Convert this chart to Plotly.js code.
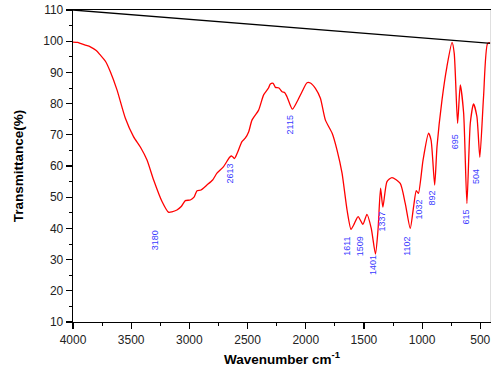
<!DOCTYPE html>
<html>
<head>
<meta charset="utf-8">
<script src="https://cdn.plot.ly/plotly-3.0.1.min.js"></script>
<style>html,body{margin:0;padding:0;background:#fff;}#chart{width:491px;height:376px;}</style>
</head>
<body>
<div id="chart"></div>
<script>
const wavenumber = [4000,3960,3937,3900,3851,3800,3766,3720,3679,3622,3550,3480,3420,3364,3307,3235,3180,3150,3107,3070,3035,2992,2960,2934,2900,2849,2800,2763,2706,2654,2635,2613,2590,2548,2520,2490,2462,2405,2362,2320,2304,2280,2261,2230,2203,2180,2161,2115,2075,2032,1989,1960,1917,1874,1831,1773,1731,1688,1645,1611,1588,1550,1509,1474,1437,1401,1379,1357,1337,1302,1259,1188,1145,1102,1073,1050,1032,992,945,923,892,872,829,787,743,724,695,672,643,615,586,558,529,504,472,437,408];
const transmittance = [99.7,99.6,99.3,98.8,98.2,97.0,95.6,93.5,90.2,84.4,75.3,69.4,66.0,61.9,55.5,48.6,45.2,45.3,45.9,47.0,48.9,49.1,50.0,52.1,52.3,53.9,55.5,57.7,59.8,62.8,63.2,62.4,64.0,67.8,68.9,71.0,74.7,77.9,82.8,85.0,86.3,86.5,85.2,85.0,83.8,83.5,82.2,78.2,80.6,83.8,86.7,86.6,84.9,81.7,74.7,70.5,65.1,57.7,45.9,39.7,41.1,43.8,41.3,44.5,40.0,31.8,39.5,52.9,46.8,55.0,56.3,54.4,48.0,40.0,47.0,52.1,51.2,61.9,70.5,68.3,53.9,66.2,81.2,91.8,99.6,96.1,73.7,86.0,76.9,48.0,73.7,79.9,75.8,62.8,82.2,99.3,99.5];
const baselineX = [4000,408];
const baselineY = [110,99.3];
const peakLabels = ['3180','2613','2115','1611','1509','1401','1337','1102','1032','892','695','615','504'];
const peakLabelX = [3293,2648,2133,1646,1531,1422,1345,1130,1030,915,721,620,543];
const peakLabelY = [36.3,57.7,73.1,34.4,34.4,28.3,42.2,34.4,45.9,49.6,67.8,43.6,56.6];
const xTickVals = [4000,3500,3000,2500,2000,1500,1000,500];
const yTickVals = [10,20,30,40,50,60,70,80,90,100,110];

const traces = [
  {x: wavenumber, y: transmittance, type:'scatter', mode:'lines',
   line:{color:'#ff0000', width:1.3, shape:'spline', smoothing:0.6}, hoverinfo:'skip'},
  {x: baselineX, y: baselineY, type:'scatter', mode:'lines',
   line:{color:'#000000', width:1.3}, hoverinfo:'skip'}
];

const annotations = peakLabels.map((t,i)=>({
  x: peakLabelX[i], y: peakLabelY[i], xref:'x', yref:'y', text:t, showarrow:false,
  textangle:-90, xanchor:'center', yanchor:'middle',
  font:{family:'Liberation Sans, Arial, sans-serif', size:9, color:'#3a3aff'}
}));

const layout = {
  width:491, height:376,
  margin:{l:73, r:0, t:10, b:54},
  paper_bgcolor:'#ffffff', plot_bgcolor:'#ffffff',
  showlegend:false,
  font:{family:'Liberation Sans, Arial, sans-serif', size:12, color:'#222'},
  xaxis:{
    range:[4000,408], showgrid:false, zeroline:false,
    showline:true, linecolor:'#000', linewidth:1.3, mirror:true,
    ticks:'outside', ticklen:6, tickwidth:1.2, tickcolor:'#000',
    tickvals:xTickVals, ticktext:xTickVals.map(String),
    minor:{dtick:250, ticks:'outside', ticklen:3, tickcolor:'#000', tickwidth:1},
    tickfont:{size:12, color:'#222'},
    title:{text:'<b>Wavenumber cm<sup>-1</sup></b>', font:{size:13.5, color:'#000'}, standoff:8}
  },
  yaxis:{
    range:[10,110], showgrid:false, zeroline:false,
    showline:true, linecolor:'#000', linewidth:1.3, mirror:false,
    ticks:'outside', ticklen:6, tickwidth:1.2, tickcolor:'#000',
    tickvals:yTickVals, ticktext:yTickVals.map(String),
    minor:{dtick:5, ticks:'outside', ticklen:3, tickcolor:'#000', tickwidth:1},
    tickfont:{size:12, color:'#222'},
    title:{text:'<b>Transmittance(%)</b>', font:{size:13.5, color:'#000'}, standoff:16}
  },
  shapes:[{type:'line', xref:'paper', yref:'paper', x0:0.999, x1:0.999, y0:0, y1:1,
           line:{color:'#dddddd', width:1}}],
  annotations: annotations
};

Plotly.newPlot('chart', traces, layout, {displayModeBar:false, staticPlot:true});
</script>
</body>
</html>
